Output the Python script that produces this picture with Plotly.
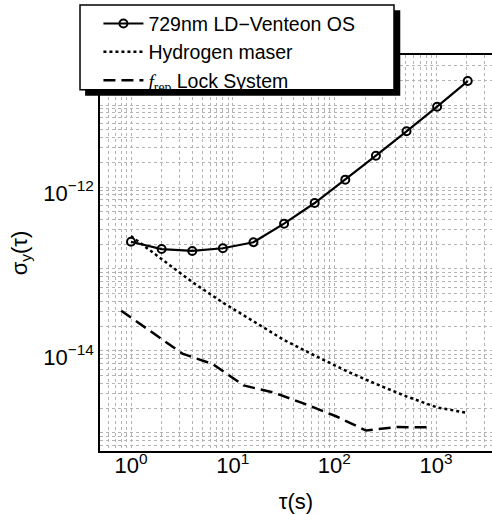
import plotly.graph_objects as go

# ---- data ----
tau_os = [1, 2, 4, 8, 16, 32, 64, 128, 256, 512, 1024, 2048]
sigma_os = [2.15e-13, 1.75e-13, 1.66e-13, 1.79e-13, 2.12e-13, 3.57e-13,
            6.38e-13, 1.23e-12, 2.41e-12, 4.78e-12, 9.53e-12, 1.96e-11]

tau_maser = [1, 2, 4, 8, 16, 32, 64, 128, 256, 512, 1024, 2048]
sigma_maser = [2.52e-13, 1.33e-13, 6.93e-14, 3.89e-14, 2.32e-14, 1.36e-14,
               8.8e-15, 5.78e-15, 3.96e-15, 2.79e-15, 2.05e-15, 1.75e-15]

tau_frep = [0.8, 1.6, 3.2, 6.4, 12.8, 25.6, 51.2, 102.4, 204.8, 409.6, 819.2]
sigma_frep = [3.1e-14, 1.69e-14, 9.3e-15, 6.9e-15, 3.8e-15, 3.1e-15,
              2.26e-15, 1.61e-15, 1.07e-15, 1.18e-15, 1.17e-15]

x_tickvals = [1, 10, 100, 1000]
x_ticktext = ["10<sup>0</sup>", "10<sup>1</sup>", "10<sup>2</sup>", "10<sup>3</sup>"]
y_tickvals = [1e-15, 1e-14, 1e-13, 1e-12, 1e-11]
y_ticktext = ["", "10<sup>\u221214</sup>", "", "10<sup>\u221212</sup>", ""]

names = ["729nm LD\u2212Venteon OS", "Hydrogen maser",
         "<span style='font-family:Liberation Serif'><i>f</i><sub>rep</sub></span> Lock System"]

FONT = "Liberation Sans"
GRID = "#b4b4b4"

fig = go.Figure()
fig.add_trace(go.Scatter(x=tau_os, y=sigma_os, mode="lines+markers", name=names[0],
                         line=dict(color="black", width=2.2),
                         marker=dict(symbol="circle-open", size=8, color="black",
                                     line=dict(width=2, color="black"))))
fig.add_trace(go.Scatter(x=tau_maser, y=sigma_maser, mode="lines", name=names[1],
                         line=dict(color="black", width=2.5, dash="dot")))
fig.add_trace(go.Scatter(x=tau_frep, y=sigma_frep, mode="lines", name=names[2],
                         line=dict(color="black", width=2.5, dash="12px,6px")))

# legend frame with drop shadow (paper coordinates)
fig.add_shape(type="rect", xref="paper", yref="paper",
              x0=-0.038, x1=0.766, y0=0.897, y1=1.113,
              fillcolor="black", line=dict(width=0), layer="above")
fig.add_shape(type="rect", xref="paper", yref="paper",
              x0=-0.051, x1=0.750, y0=0.912, y1=1.126,
              fillcolor="white", line=dict(color="black", width=1.5), layer="above")

fig.update_layout(
    width=492, height=514,
    margin=dict(l=100, r=0, t=55, b=63, autoexpand=False),
    paper_bgcolor="white", plot_bgcolor="white",
    font=dict(family=FONT, size=22, color="black"),
    showlegend=True,
    legend=dict(x=-0.004, y=1.128, xanchor="left", yanchor="top",
                bgcolor="rgba(0,0,0,0)", borderwidth=0,
                font=dict(family=FONT, size=19.5, color="black"),
                tracegroupgap=0, itemwidth=40),
)

fig.update_xaxes(
    type="log", range=[-0.305, 3.55],
    tickvals=x_tickvals, ticktext=x_ticktext,
    showline=True, linecolor="black", linewidth=1.5, mirror=True,
    ticks="", ticklabelstandoff=-6,
    showgrid=True, gridcolor=GRID, griddash="dot", gridwidth=1,
    minor=dict(showgrid=True, gridcolor=GRID, griddash="dot", gridwidth=1, dtick="D1"),
    zeroline=False,
    title=dict(text="\u03c4(s)", font=dict(family=FONT, size=22), standoff=19),
    tickfont=dict(family=FONT, size=22),
)
fig.update_yaxes(
    type="log", range=[-15.22, -10.39],
    tickvals=y_tickvals, ticktext=y_ticktext,
    showline=True, linecolor="black", linewidth=1.5, mirror=False,
    ticks="", ticklabelshift=6,
    showgrid=True, gridcolor=GRID, griddash="dot", gridwidth=1,
    minor=dict(showgrid=True, gridcolor=GRID, griddash="dot", gridwidth=1, dtick="D1"),
    zeroline=False,
    title=dict(text="\u03c3<sub>y</sub>(\u03c4)", font=dict(family=FONT, size=22), standoff=10),
    tickfont=dict(family=FONT, size=22),
)

fig.write_html("out.html", config={"displayModeBar": False},
               post_script="document.body.style.margin='0px';")
